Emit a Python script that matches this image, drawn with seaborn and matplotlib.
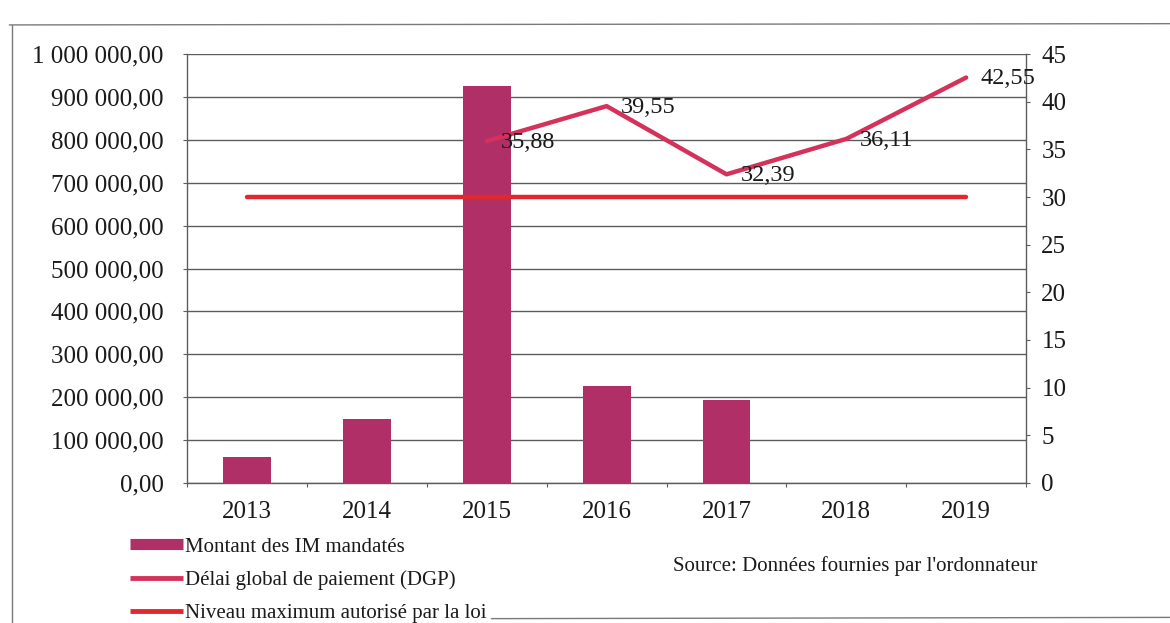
import numpy as np
import pandas as pd
import matplotlib
matplotlib.use("Agg")
import matplotlib.pyplot as plt
from matplotlib.lines import Line2D
import seaborn as sns

# --- data -------------------------------------------------------------
years = ["2013", "2014", "2015", "2016", "2017", "2018", "2019"]
montant_im = [60000, 150000, 925000, 226000, 193000, np.nan, np.nan]
delai_dgp = [np.nan, np.nan, 35.88, 39.55, 32.39, 36.11, 42.55]
niveau_max = [30, 30, 30, 30, 30, 30, 30]

left_ticks = [0, 100000, 200000, 300000, 400000, 500000,
              600000, 700000, 800000, 900000, 1000000]
right_ticks = [0, 5, 10, 15, 20, 25, 30, 35, 40, 45]

label_bars = "Montant des IM mandatés"
label_dgp = "Délai global de paiement (DGP)"
label_max = "Niveau maximum autorisé par la loi"
source_text = "Source: Données fournies par l'ordonnateur"

# --- style ------------------------------------------------------------
sns.set_theme(style="white")
plt.rcParams["font.family"] = ["Liberation Serif", "DejaVu Serif"]

bar_color = "#B02F67"
dgp_color = "#D4325A"
max_color = "#E2272F"
grid_color = "#5c5c5c"
text_color = "#1a1a1a"

fig = plt.figure(figsize=(11.7, 6.23), dpi=100)
ax = fig.add_axes([0.160, 0.225, 0.717, 0.688])
ax2 = ax.twinx()

df = pd.DataFrame({"annee": years, "montant": montant_im,
                   "dgp": delai_dgp, "max": niveau_max})
df["pos"] = np.arange(len(years))

# bars on the left axis
sns.barplot(data=df, x="annee", y="montant", order=years, ax=ax,
            color=bar_color, saturation=1, width=0.40, edgecolor="none",
            zorder=3)

# lines on the right axis
sns.lineplot(data=df, x="pos", y="max", ax=ax2, color=max_color,
             linewidth=3.2, solid_capstyle="round", zorder=4)
sns.lineplot(data=df, x="pos", y="dgp", ax=ax2, color=dgp_color,
             linewidth=3.2, solid_capstyle="round", zorder=5)

# value labels for the DGP series
for p, v in zip(df["pos"], df["dgp"]):
    if np.isnan(v):
        continue
    ax2.annotate(f"{v:.2f}".replace(".", ","), (p, v),
                 xytext=(10, -1), textcoords="offset points",
                 ha="left", va="center", fontsize=17.5, color=text_color,
                 zorder=6)

# axes limits, ticks and grid
ax.set_xlim(-0.5, len(years) - 0.5)
ax.set_ylim(0, 1000000)
ax.set_yticks(left_ticks)
ax.set_yticklabels([f"{v:,.2f}".replace(",", " ").replace(".", ",")
                    for v in left_ticks])
ax2.set_ylim(0, 45)
ax2.set_yticks(right_ticks)
ax2.set_yticklabels([str(v) for v in right_ticks])

ax.set_xticks(np.arange(len(years)))
ax.set_xticklabels(years)
ax.set_xticks(np.arange(len(years) + 1) - 0.5, minor=True)

ax.yaxis.grid(True, color=grid_color, linewidth=1.0, zorder=0)
ax.xaxis.grid(False)
ax2.grid(False)
ax.set_axisbelow(True)

ax.set_xlabel("")
ax.set_ylabel("")
ax2.set_xlabel("")
ax2.set_ylabel("")

ax.tick_params(axis="y", which="major", length=3, width=0.8,
               color=grid_color, pad=14, labelsize=18, labelcolor=text_color,
               left=True)
ax.tick_params(axis="x", which="major", length=0, pad=13, labelsize=18,
               labelcolor=text_color)
ax.tick_params(axis="x", which="minor", length=3, width=0.8,
               color=grid_color, bottom=True)
ax2.tick_params(axis="y", length=3, width=0.8, color=grid_color, pad=8,
                labelsize=18, labelcolor=text_color, right=True)

for a in (ax, ax2):
    a.spines["top"].set_visible(False)
    for side in ("left", "right", "bottom"):
        a.spines[side].set_color(grid_color)
        a.spines[side].set_linewidth(1.0)
ax.spines["right"].set_visible(False)
ax2.spines["left"].set_visible(False)
ax2.spines["bottom"].set_visible(False)

# legend below the plot
handles = [
    Line2D([0], [0], color=bar_color, linewidth=8, solid_capstyle="butt"),
    Line2D([0], [0], color=dgp_color, linewidth=3.5, solid_capstyle="butt"),
    Line2D([0], [0], color=max_color, linewidth=3.5, solid_capstyle="butt"),
]
fig.legend(handles, [label_bars, label_dgp, label_max],
           loc="upper left", bbox_to_anchor=(0.111, 0.138),
           frameon=False, fontsize=15, handlelength=2.55, handletextpad=0.08,
           labelspacing=0.66, borderaxespad=0, borderpad=0,
           labelcolor=text_color)

fig.text(0.575, 0.092, source_text, fontsize=15, color=text_color,
         ha="left", va="center")

# page frame around the figure
frame_kw = dict(color="#7a7a7a", linewidth=1.0, transform=fig.transFigure)
fig.add_artist(Line2D([0.008, 1.0], [0.960, 0.962], **frame_kw))
fig.add_artist(Line2D([0.010, 0.010], [0.960, 0.0], **frame_kw))
fig.add_artist(Line2D([0.42, 1.0], [0.007, 0.009], **frame_kw))

fig.savefig("out.png", dpi=100, facecolor="white")
